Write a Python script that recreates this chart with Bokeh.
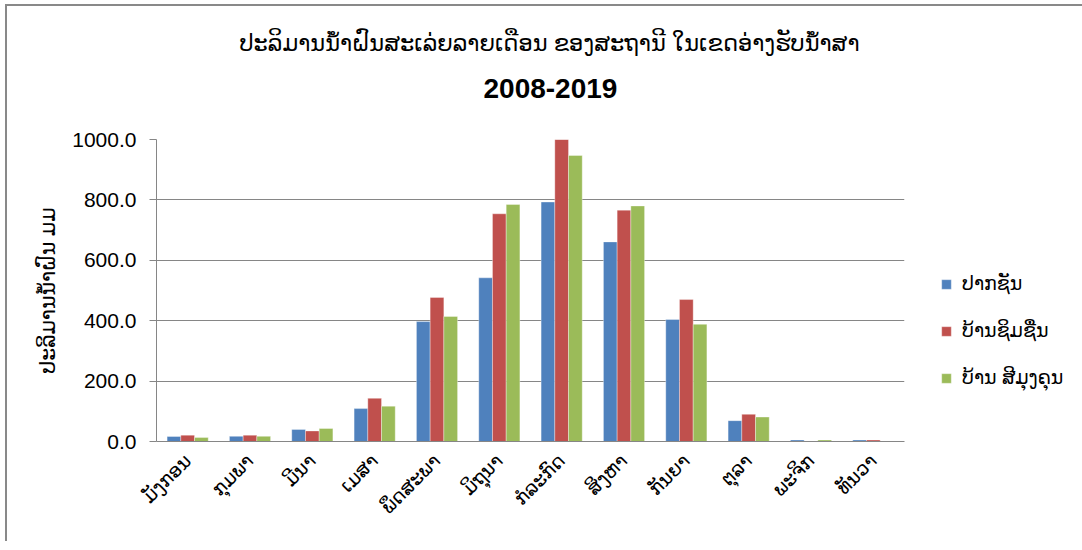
from bokeh.plotting import figure
from bokeh.layouts import column
from bokeh.models import FactorRange, Legend, LegendItem, Title, NumeralTickFormatter, ColumnDataSource
from bokeh.transform import dodge
from bokeh.embed import file_html
from bokeh.resources import INLINE
import math

months = ["ມັງກອນ", "ກຸມພາ", "ມີນາ", "ເມສາ", "ພຶດສະພາ", "ມິຖຸນາ",
          "ກໍລະກົດ", "ສິງຫາ", "ກັນຍາ", "ຕຸລາ", "ພະຈິກ", "ທັນວາ"]
series_names = ["ປາກຊັນ", "ບ້ານຊິມຊື່ນ", "ບ້ານ ສີມຸງຄຸນ"]
pak_xan = [16.5, 17.0, 40.0, 109.0, 397.0, 542.0, 793.0, 661.0, 404.0, 69.0, 5.0, 5.0]
ban_xim = [21.0, 21.0, 35.0, 143.0, 477.0, 754.0, 1000.0, 766.0, 470.0, 90.0, 0.5, 5.0]
ban_si = [13.0, 17.0, 43.0, 117.0, 414.0, 785.0, 947.0, 780.0, 388.0, 81.0, 5.0, 0.5]
colors = ["#4F81BD", "#C0504D", "#9BBB59"]
title_line1 = "ປະລິມານນ້ຳຝົນສະເລ່ຍລາຍເດືອນ ຂອງສະຖານີ ໃນເຂດອ່າງຮັບນ້ຳສາ"
title_line2 = "2008-2019"
y_label = "ປະລິມານນ້ຳຝົນ ມມ"

FONT = "Liberation Sans, DejaVu Sans"

src = ColumnDataSource(dict(month=months, s0=pak_xan, s1=ban_xim, s2=ban_si))

FW, FH = 748, 302
p = figure(frame_width=FW, frame_height=FH, x_range=FactorRange(*months), y_range=(0, 1000),
           output_backend="svg", toolbar_location=None,
           min_border_left=149, min_border_right=165, min_border_top=133, min_border_bottom=100)
p.title = None
p.outline_line_color = None
p.background_fill_color = "white"

bar_w = 0.22
offsets = [-bar_w, 0.0, bar_w]
renderers = []
for i, key in enumerate(["s0", "s1", "s2"]):
    r = p.vbar(x=dodge("month", offsets[i], range=p.x_range), top=key, width=bar_w, bottom=0,
               source=src, fill_color=colors[i], line_color="white", line_alpha=0.35, line_width=1)
    renderers.append(r)

legend = Legend(items=[LegendItem(label=series_names[i], renderers=[renderers[i]]) for i in range(3)],
                location=(36, 52), border_line_color=None, background_fill_alpha=0,
                glyph_width=12, glyph_height=12, label_height=20, spacing=24, padding=0, margin=0,
                label_text_font=FONT, label_text_font_size="19px", label_text_color="#000000",
                label_standoff=10)
p.add_layout(legend, "right")

# axes
p.yaxis.ticker = [0, 200, 400, 600, 800, 1000]
p.yaxis.formatter = NumeralTickFormatter(format="0.0")
p.yaxis.major_label_text_font = FONT
p.yaxis.major_label_text_font_size = "21px"
p.yaxis.major_label_text_color = "#000000"
p.yaxis.major_tick_in = 0
p.yaxis.major_tick_out = 7
p.yaxis.minor_tick_out = 0
p.yaxis.minor_tick_in = 0
p.yaxis.major_label_standoff = 13
p.yaxis.axis_line_color = "#868686"
p.yaxis.major_tick_line_color = "#868686"
p.yaxis.axis_label = y_label
p.yaxis.axis_label_text_font = FONT
p.yaxis.axis_label_text_font_size = "20.5px"
p.yaxis.axis_label_text_font_style = "normal"
p.yaxis.axis_label_text_color = "#000000"
p.yaxis.axis_label_standoff = 10

p.xaxis.major_label_orientation = math.pi / 4
p.xaxis.major_label_text_font = FONT
p.xaxis.major_label_text_font_size = "19px"
p.xaxis.major_label_text_color = "#000000"
p.xaxis.major_tick_line_color = None
p.xaxis.major_tick_in = 0
p.xaxis.major_tick_out = 0
p.xaxis.axis_line_color = "#868686"
p.xaxis.major_label_standoff = 16

p.xgrid.grid_line_color = None
p.ygrid.grid_line_color = "#868686"
p.ygrid.grid_line_width = 1

p.add_layout(Title(text=title_line2, align="left", offset=327, text_font=FONT,
                   text_font_size="28px", text_font_style="bold", text_color="#000000", standoff=83), "above")
p.add_layout(Title(text=title_line1, align="left", offset=83, text_font=FONT,
                   text_font_size="22.5px", text_font_style="normal", text_color="#000000", standoff=-40), "above")

layout = column(p, styles={"margin-left": "5px", "margin-top": "4px",
                           "border-left": "2px solid #898989", "border-top": "2px solid #898989"})

open("out.html", "w").write(file_html(layout, INLINE))
